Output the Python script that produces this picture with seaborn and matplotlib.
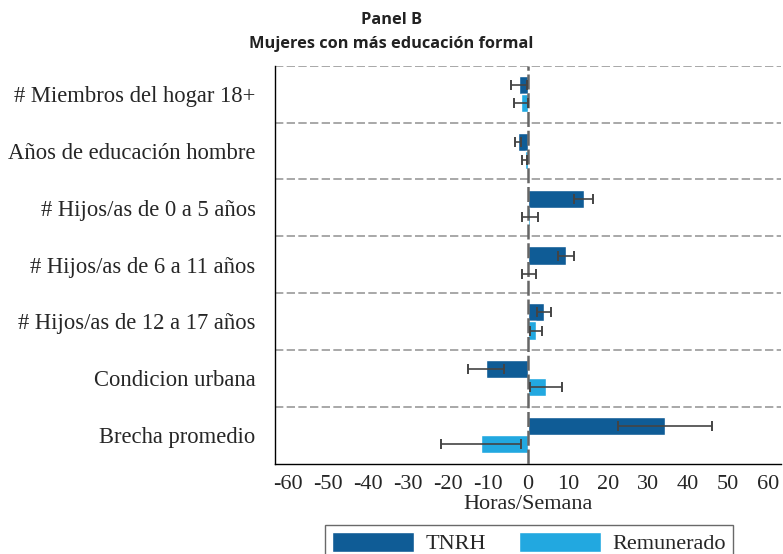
import pandas as pd
import matplotlib.pyplot as plt
import seaborn as sns

# datos (horas/semana)
categorias = ['# Miembros del hogar 18+', 'Años de educación hombre',
              '# Hijos/as de 0 a 5 años', '# Hijos/as de 6 a 11 años',
              '# Hijos/as de 12 a 17 años', 'Condicion urbana', 'Brecha promedio']
tnrh = [-2.3, -2.5, 13.9, 9.5, 4.0, -10.5, 34.3]
tnrh_err = [2.0, 0.7, 2.4, 2.0, 1.8, 4.5, 11.8]
remunerado = [-1.8, -0.8, 0.4, 0.2, 2.0, 4.6, -11.8]
remunerado_err = [1.7, 0.6, 2.0, 1.7, 1.5, 4.0, 10.0]
series = ['TNRH', 'Remunerado']
colores = ['#0F5C96', '#22A8E0']
xticks = [-60, -50, -40, -30, -20, -10, 0, 10, 20, 30, 40, 50, 60]

df = pd.DataFrame({'cat': categorias * 2,
                   'serie': [series[0]] * 7 + [series[1]] * 7,
                   'valor': tnrh + remunerado,
                   'err': tnrh_err + remunerado_err})

sns.set_style('white')
plt.rcParams['font.family'] = ['Liberation Serif', 'DejaVu Serif']
plt.rcParams['axes.unicode_minus'] = False

fig = plt.figure(figsize=(7.83, 5.54), dpi=100)
ax = fig.add_axes([275 / 783, 90.5 / 554, 506 / 783, 397.8 / 554])

sns.barplot(data=df, y='cat', x='valor', hue='serie', order=categorias,
            hue_order=series, palette=colores, orient='h', width=0.64,
            errorbar=None, saturation=1, ax=ax)

# barras de error a partir de las barras dibujadas
for cont, s in zip(ax.containers, series):
    errs = df[df['serie'] == s]['err'].tolist()
    for patch, e in zip(cont.patches, errs):
        yc = patch.get_y() + patch.get_height() / 2
        xv = patch.get_x() + patch.get_width()
        ax.errorbar(xv, yc, xerr=e, fmt='none', ecolor='#444444',
                    elinewidth=1.2, capsize=3.5, capthick=1.4, zorder=4)

for k in range(len(categorias)):
    ax.axhline(k - 0.5, color='#999999', lw=1.2, ls=(0, (5, 2)), zorder=0)
ax.axvline(0, color='#666666', lw=1.8, ls=(0, (6, 1.5)), zorder=3)

ax.set_xlim(-63.3, 63.3)
ax.set_ylim(6.5, -0.5)
ax.set_xticks(xticks)
ax.set_xticklabels([str(t) for t in xticks], fontsize=16)
ax.tick_params(axis='y', labelsize=16.3, length=6, width=1, pad=8, color='black')
ax.tick_params(axis='x', length=6, width=1, pad=2, color='black')
ax.set_ylabel('')
ax.set_xlabel('Horas/Semana', fontsize=16, labelpad=1)
sns.despine(ax=ax)
for sp in ['left', 'bottom']:
    ax.spines[sp].set_color('black')
    ax.spines[sp].set_linewidth(1)

handles, labels = ax.get_legend_handles_labels()
ax.get_legend().remove()
fig.legend(handles, labels, loc='upper center', bbox_to_anchor=(529 / 783, 1 - 525 / 554),
           ncol=2, fontsize=16, frameon=True, fancybox=False, edgecolor='#444444',
           handlelength=3.7, handleheight=1.0, handletextpad=0.5,
           columnspacing=1.5, borderpad=0.3, borderaxespad=0)

fig.text(0.5, 1 - 20 / 554, 'Panel B', ha='center', va='center',
         fontsize=11.8, fontweight='bold', family=['Open Sans', 'DejaVu Sans'], color='#222222')
fig.text(0.5, 1 - 44 / 554, 'Mujeres con más educación formal', ha='center', va='center',
         fontsize=11.8, fontweight='bold', family=['Open Sans', 'DejaVu Sans'], color='#222222')

plt.savefig('out.png', dpi=100)
